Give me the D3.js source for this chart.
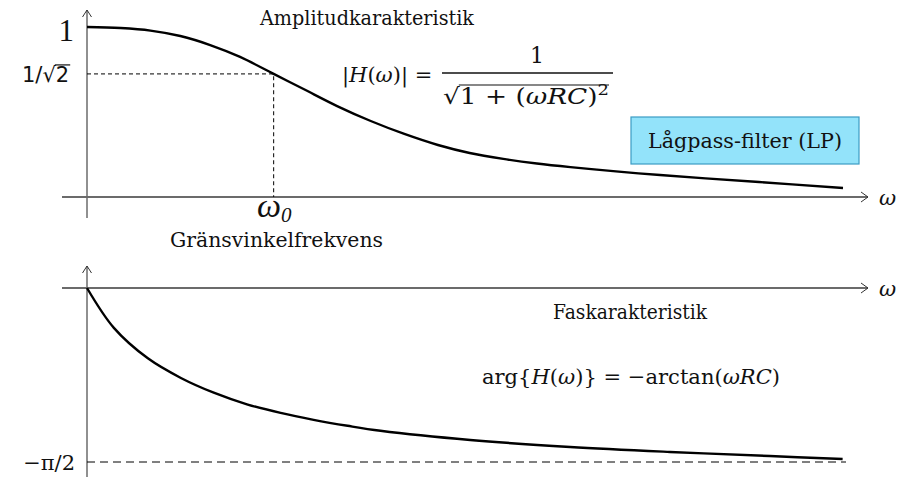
<!DOCTYPE html>
<html>
<head>
<meta charset="utf-8">
<script src="https://cdn.jsdelivr.net/npm/d3@7"></script>
<style>
body { margin: 0; background: #fff; }
text { fill: #111; }
</style>
</head>
<body>
<svg id="fig" width="919" height="477"></svg>
<script>
// omega in units of omega0
var omegaAmp  = [0, 0.18, 0.34, 0.50, 0.66, 0.82, 1.00, 1.16, 1.34, 1.52, 1.70, 1.88, 2.05, 2.23, 2.41, 2.59, 3.07, 3.60, 4.05];
var ampValues = [1.0, 0.994, 0.979, 0.947, 0.894, 0.824, 0.724, 0.635, 0.535, 0.447, 0.371, 0.306, 0.259, 0.224, 0.197, 0.176, 0.129, 0.088, 0.053];

var omegaPhase  = [0, 0.144, 0.326, 0.503, 0.679, 0.861, 1.037, 1.214, 1.396, 1.572, 2.053, 2.588, 3.123, 3.658, 4.048];
var phaseValues = [0, -0.36, -0.635, -0.812, -0.945, -1.052, -1.128, -1.190, -1.244, -1.289, -1.372, -1.435, -1.480, -1.517, -1.544];

var cutoffOmega = 1.0, cutoffAmp = 0.724;
var phaseLimit = -Math.PI / 2;
var omegaMax = 4.05;

var serif = "'DejaVu Serif', serif";
var svg = d3.select("#fig");

var x = d3.scaleLinear().domain([0, omegaMax]).range([87, 843]);
var yAmp = d3.scaleLinear().domain([0, 1]).range([197, 27]);
var yPh = d3.scaleLinear().domain([phaseLimit, 0]).range([462, 288]);

var axisColor = "#6b6b6b";

function drawAxes(yZero, yTop, yBottom) {
  var g = svg.append("g");
  // horizontal axis
  g.append("line").attr("x1", 62).attr("x2", 868).attr("y1", yZero).attr("y2", yZero)
    .attr("stroke", axisColor).attr("stroke-width", 1.8);
  g.append("path")
    .attr("d", "M861," + (yZero - 5) + "L868," + yZero + "L861," + (yZero + 5))
    .attr("fill", "none").attr("stroke", "#333").attr("stroke-width", 1);
  // vertical axis
  g.append("line").attr("x1", x(0)).attr("x2", x(0)).attr("y1", yTop).attr("y2", yBottom)
    .attr("stroke", axisColor).attr("stroke-width", 1.5);
  g.append("path")
    .attr("d", "M" + (x(0) - 4.5) + "," + (yTop + 7) + "L" + x(0) + "," + yTop + "L" + (x(0) + 4.5) + "," + (yTop + 7))
    .attr("fill", "none").attr("stroke", "#333").attr("stroke-width", 1);
  g.append("text").attr("x", 879).attr("y", yZero + 8)
    .style("font-family", serif).style("font-style", "italic").style("font-size", "21px")
    .text("ω");
}

drawAxes(yAmp(0), 10, 218);
drawAxes(yPh(0), 266, 477);

// ---------- amplitude ----------
var ampData = omegaAmp.map(function(d, i) { return {w: d, v: ampValues[i]}; });
var lineAmp = d3.line()
  .x(function(d) { return x(d.w); })
  .y(function(d) { return yAmp(d.v); })
  .curve(d3.curveCatmullRom.alpha(0.5));

// cutoff helper lines
svg.append("path")
  .attr("d", "M" + x(0) + "," + yAmp(cutoffAmp) + "H" + x(cutoffOmega) + "V" + yAmp(0))
  .attr("fill", "none").attr("stroke", "#000").attr("stroke-width", 1)
  .attr("stroke-dasharray", "4,3");

svg.append("path").datum(ampData)
  .attr("d", lineAmp)
  .attr("fill", "none").attr("stroke", "#000").attr("stroke-width", 2.4);

// y labels
svg.append("text").attr("x", 74).attr("y", 41).attr("text-anchor", "end")
  .style("font-family", "'Liberation Serif', serif").style("font-size", "31px").text("1");

var sq = svg.append("text").attr("x", 22).attr("y", yAmp(cutoffAmp) + 8)
  .style("font-family", "'DejaVu Sans', sans-serif").style("font-size", "21px");
sq.append("tspan").text("1/√");
var two = sq.append("tspan").text("2");
var bb2 = two.node().getBBox();
svg.append("line").attr("x1", bb2.x - 1).attr("x2", bb2.x + bb2.width + 1)
  .attr("y1", bb2.y + 2).attr("y2", bb2.y + 2).attr("stroke", "#111").attr("stroke-width", 1.2);

svg.append("text").attr("x", 260).attr("y", 25)
  .style("font-family", serif).style("font-size", "19.5px")
  .attr("textLength", 214).attr("lengthAdjust", "spacingAndGlyphs")
  .text("Amplitudkarakteristik");

// amplitude formula
var fx = 342, fy = 82;
var f1 = svg.append("text").attr("x", fx).attr("y", fy)
  .style("font-family", serif).style("font-size", "21px");
f1.append("tspan").text("|");
f1.append("tspan").style("font-style", "italic").text("H");
f1.append("tspan").text("(");
f1.append("tspan").style("font-style", "italic").text("ω");
f1.append("tspan").text(")| =");

svg.append("line").attr("x1", 442).attr("x2", 613).attr("y1", 73).attr("y2", 73)
  .attr("stroke", "#111").attr("stroke-width", 1.4);
svg.append("text").attr("x", 537).attr("y", 63).attr("text-anchor", "middle")
  .style("font-family", serif).style("font-size", "22px").text("1");

var den = svg.append("text").attr("x", 443).attr("y", 104)
  .style("font-family", serif).style("font-size", "22px")
  .attr("textLength", 166).attr("lengthAdjust", "spacingAndGlyphs");
den.append("tspan").text("√");
var rad = den.append("tspan").text("1 + (");
den.append("tspan").style("font-style", "italic").text("ωRC");
den.append("tspan").text(")");
den.append("tspan").attr("dy", -9).style("font-size", "15px").text("2");
var bbRad = rad.node().getBBox(), bbDen = den.node().getBBox();
svg.append("line").attr("x1", bbRad.x - 1).attr("x2", bbDen.x + bbDen.width)
  .attr("y1", bbRad.y + 1).attr("y2", bbRad.y + 1).attr("stroke", "#111").attr("stroke-width", 1.2);

// low-pass box
svg.append("rect").attr("x", 631).attr("y", 117).attr("width", 228).attr("height", 47)
  .attr("fill", "#93e3fa").attr("stroke", "#3b9cc4").attr("stroke-width", 1.2);
svg.append("text").attr("x", 745).attr("y", 148).attr("text-anchor", "middle")
  .style("font-family", serif).style("font-size", "20px")
  .attr("textLength", 194).attr("lengthAdjust", "spacingAndGlyphs")
  .text("Lågpass-filter (LP)");

// omega0 label
var w0 = svg.append("text").attr("x", 257).attr("y", 217)
  .style("font-family", "'Liberation Serif', serif").style("font-style", "italic").style("font-size", "34px");
w0.append("tspan").text("ω");
w0.append("tspan").attr("dy", 5).style("font-size", "21px").text("0");

svg.append("text").attr("x", 170).attr("y", 247)
  .style("font-family", serif).style("font-size", "19.5px")
  .attr("textLength", 213).attr("lengthAdjust", "spacingAndGlyphs")
  .text("Gränsvinkelfrekvens");

// ---------- phase ----------
var phData = omegaPhase.map(function(d, i) { return {w: d, v: phaseValues[i]}; });
var linePh = d3.line()
  .x(function(d) { return x(d.w); })
  .y(function(d) { return yPh(d.v); })
  .curve(d3.curveCatmullRom.alpha(0.5));

svg.append("line").attr("x1", x(0)).attr("x2", 846)
  .attr("y1", yPh(phaseLimit)).attr("y2", yPh(phaseLimit))
  .attr("stroke", "#000").attr("stroke-width", 1).attr("stroke-dasharray", "8,5");

svg.append("path").datum(phData)
  .attr("d", linePh)
  .attr("fill", "none").attr("stroke", "#000").attr("stroke-width", 2.4);

svg.append("text").attr("x", 75).attr("y", yPh(phaseLimit) + 8).attr("text-anchor", "end")
  .style("font-family", serif).style("font-size", "21px").text("−π/2");

svg.append("text").attr("x", 553).attr("y", 319)
  .style("font-family", serif).style("font-size", "19.5px")
  .attr("textLength", 154).attr("lengthAdjust", "spacingAndGlyphs")
  .text("Faskarakteristik");

var pf = svg.append("text").attr("x", 482).attr("y", 384)
  .style("font-family", serif).style("font-size", "21px")
  .attr("textLength", 298).attr("lengthAdjust", "spacingAndGlyphs");
pf.append("tspan").text("arg{");
pf.append("tspan").style("font-style", "italic").text("H");
pf.append("tspan").text("(");
pf.append("tspan").style("font-style", "italic").text("ω");
pf.append("tspan").text(")} = −arctan(");
pf.append("tspan").style("font-style", "italic").text("ωRC");
pf.append("tspan").text(")");
</script>
</body>
</html>
